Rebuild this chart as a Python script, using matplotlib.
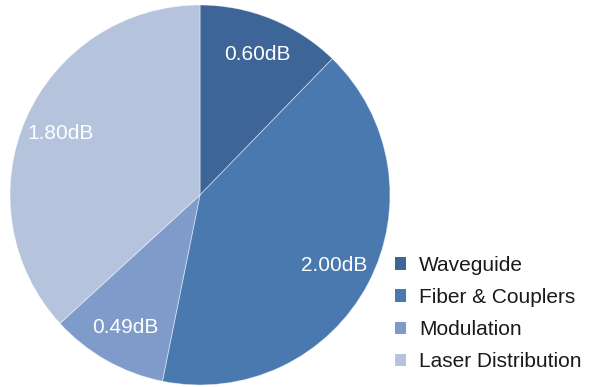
import matplotlib
matplotlib.use("Agg")
import matplotlib.pyplot as plt

categories = ["Waveguide", "Fiber & Couplers", "Modulation", "Laser Distribution"]
losses_db = [0.60, 2.00, 0.49, 1.80]
colors = ["#3e6597", "#4a79b0", "#7f9bc9", "#b5c3dd"]

plt.rcParams["font.family"] = ["Liberation Sans", "DejaVu Sans"]

W, H = 592, 387
fig = plt.figure(figsize=(W / 100, H / 100), dpi=100)

cx, cy, r = 200, 195, 190
ax = fig.add_axes([(cx - r) / W, (H - cy - r) / H, 2 * r / W, 2 * r / H])

wedges, texts, autotexts = ax.pie(
    losses_db,
    colors=colors,
    startangle=90,
    counterclock=False,
    autopct=lambda p: f"{p * sum(losses_db) / 100:.2f}dB",
    pctdistance=0.8,
    wedgeprops=dict(edgecolor=(1, 1, 1, 0.5), linewidth=0.6),
    textprops=dict(color="white", fontsize=15),
)
ax.set_xlim(-1, 1)
ax.set_ylim(-1, 1)

leg = fig.legend(
    wedges, categories,
    loc="upper left",
    bbox_to_anchor=(395 / W, (H - 256) / H),
    frameon=False,
    fontsize=15,
    handlelength=0.55,
    handleheight=0.55,
    handletextpad=0.6,
    labelspacing=0.63,
    borderpad=0,
    borderaxespad=0,
)
for h in leg.legend_handles:
    h.set_edgecolor("none")
for t in leg.get_texts():
    t.set_color("#1a1a1a")

fig.savefig("out.png", dpi=100)
